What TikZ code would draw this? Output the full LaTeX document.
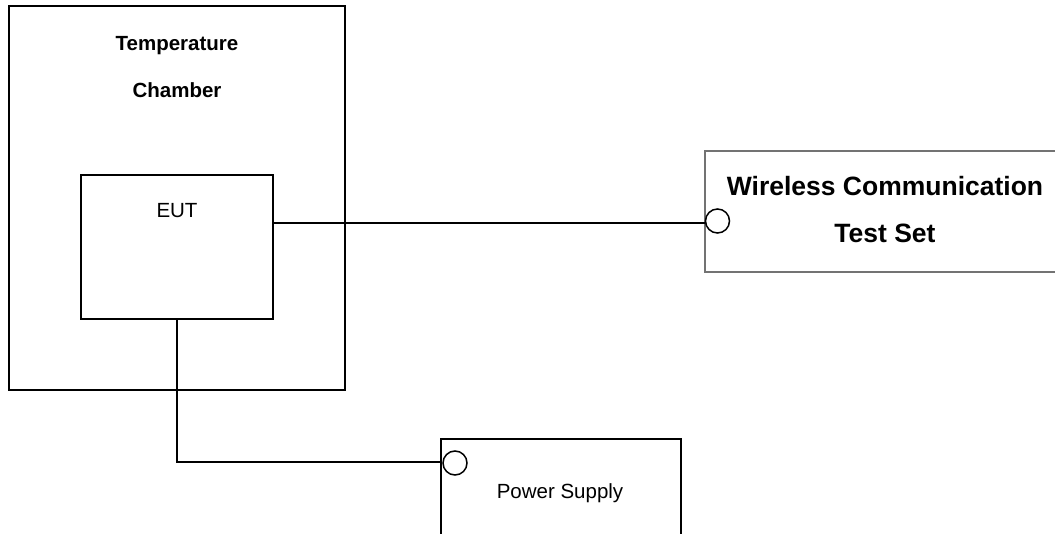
\documentclass[tikz,border=0pt]{standalone}
\usepackage{fontspec}
\setmainfont{Liberation Sans}
\begin{document}
\begin{tikzpicture}[x=1pt,y=-1pt,
  heavybox/.style={draw=black,line width=2.9pt,fill=none},
  lightbox/.style={draw=black!55,line width=1.4pt},
  wire/.style={draw=black,line width=2.2pt},
  port/.style={circle,draw=black,line width=1.5pt,fill=white,minimum size=24pt,inner sep=0pt},
  bigbold/.style={anchor=base,font=\fontsize{20.5}{24}\selectfont\bfseries},
  plain/.style={anchor=base,font=\fontsize{20.5}{24}\selectfont},
  hugebold/.style={anchor=base,font=\fontsize{26.5}{30}\selectfont\bfseries}]
\useasboundingbox (0,0) rectangle (1055,533);
\clip (0,0) rectangle (1055,533);
\fill[white] (0,0) rectangle (1055,533);
% Temperature chamber
\draw[heavybox] (9,6) rectangle (345,390);
\node[bigbold] (t1) at (177,50) {Temperature};
\node[bigbold] (t2) at (177,97.5) {Chamber};
% EUT
\draw[heavybox] (81,175) rectangle (273,319);
\node[plain] (eut) at (177,217) {EUT};
\coordinate (eutR) at (273,223);
\coordinate (eutB) at (177,319);
% Wireless test set
\draw[lightbox] (1070,151) -- (705,151) -- (705,272) -- (1070,272);
\node[hugebold] (w1) at (885,195) {Wireless Communication};
\node[hugebold] (w2) at (885,242) {Test Set};
\node[port] (wp) at (717.5,221) {};
% Power supply
\draw[heavybox] (441,560) -- (441,439) -- (681,439) -- (681,560);
\node[plain] (ps) at (560,498) {Power Supply};
\node[port] (pp) at (455,463) {};
% connectors
\draw[wire] (eutR) -- (eutR -| wp.west);
\coordinate (bend) at (177,462);
\draw[wire] (eutB) -- (bend) -- (bend -| pp.west);
\end{tikzpicture}
\end{document}
